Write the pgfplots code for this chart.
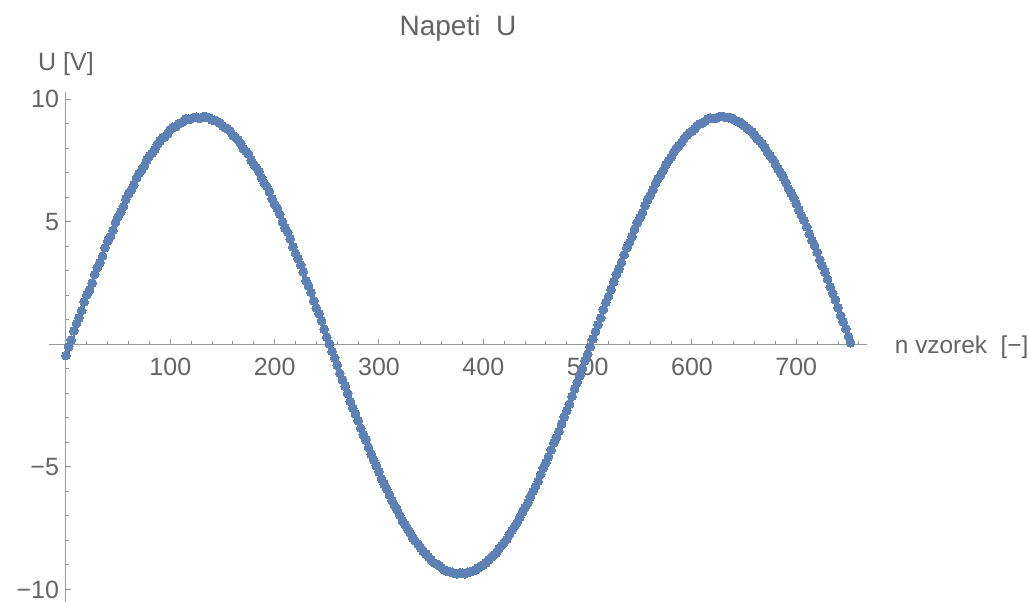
\documentclass[border=0pt]{standalone}
\usepackage{pgfplots}
\pgfplotsset{compat=1.18}
\usepackage{fontspec}
\setmainfont{Liberation Sans}
\definecolor{txt}{RGB}{100,100,100}
\definecolor{axc}{RGB}{150,150,150}
\definecolor{pt}{RGB}{94,129,181}
\begin{document}
\begin{tikzpicture}
\begin{axis}[
  scale only axis, width=408.7bp, height=255.15bp,
  xmin=-16, xmax=767.5, ymin=-10.51, ymax=10.31,
  axis lines=middle,
  axis line style={axc, line width=0.5bp, -},
  xtick={100,200,...,700}, xticklabels={100,200,300,400,500,600,700},
  ytick={-10,-5,5,10}, yticklabels={−10,−5,5,10},
  minor xtick={20,40,...,760}, minor ytick={-10,-9,...,10},
  tick align=inside,
  major tick length=2.7bp, minor tick length=1.7bp,
  every tick/.style={axc, line width=0.5bp},
  tick label style={txt, font=\fontsize{12.5bp}{14bp}\selectfont},
  xticklabel style={yshift=-3.5bp},
  clip=false,
]
\addplot[only marks, mark=*, mark size=2.2bp, color=pt, mark options={fill=pt, draw=pt, line width=0pt}] coordinates {
(0,-0.45) (5,0.18) (10,0.85) (15,1.38) (20,2.02) (25,2.50) (30,3.14) (35,3.60) (40,4.22) (45,4.65)
(50,5.22) (55,5.62) (60,6.15) (65,6.50) (70,6.98) (75,7.28) (80,7.70) (85,7.95) (90,8.30) (95,8.48)
(100,8.77) (105,8.88) (110,9.03) (115,9.20) (120,9.21) (125,9.27) (130,9.25) (135,9.28) (140,9.16) (145,9.10)
(150,8.92) (155,8.80) (160,8.52) (165,8.35) (170,7.98) (175,7.76) (180,7.34) (185,7.05) (190,6.58) (195,6.22)
(200,5.72) (205,5.31) (210,4.75) (215,4.30) (220,3.72) (225,3.25) (230,2.60) (235,2.12) (240,1.48) (245,0.96)
(250,0.30) (255,-0.28) (260,-0.85) (265,-1.45) (270,-2.00) (275,-2.60) (280,-3.12) (285,-3.68) (290,-4.20) (295,-4.72)
(300,-5.20) (305,-5.70) (310,-6.14) (315,-6.58) (320,-6.97) (325,-7.36) (330,-7.70) (335,-8.03) (340,-8.30) (345,-8.55)
(350,-8.78) (355,-8.96) (360,-9.10) (365,-9.25) (370,-9.30) (375,-9.36) (380,-9.34) (385,-9.30) (390,-9.24) (395,-9.12)
(400,-9.00) (405,-8.80) (410,-8.60) (415,-8.34) (420,-8.08) (425,-7.75) (430,-7.42) (435,-7.05) (440,-6.66) (445,-6.22)
(450,-5.80) (455,-5.30) (460,-4.82) (465,-4.30) (470,-3.80) (475,-3.25) (480,-2.70) (485,-2.12) (490,-1.55) (495,-0.97)
(500,-0.40) (505,0.22) (510,0.80) (515,1.42) (520,1.95) (525,2.56) (530,3.08) (535,3.66) (540,4.15) (545,4.70)
(550,5.16) (555,5.66) (560,6.09) (565,6.56) (570,6.92) (575,7.33) (580,7.64) (585,8.00) (590,8.24) (595,8.53)
(600,8.70) (605,8.93) (610,9.03) (615,9.20) (620,9.22) (625,9.27) (630,9.30) (635,9.25) (640,9.18) (645,9.07)
(650,8.93) (655,8.76) (660,8.54) (665,8.30) (670,8.02) (675,7.70) (680,7.36) (685,7.00) (690,6.60) (695,6.18)
(700,5.74) (705,5.26) (710,4.80) (715,4.25) (720,3.76) (725,3.20) (730,2.66) (735,2.08) (740,1.50) (745,0.92)
(750,0.32) (752,0.07)
(2.5,-0.10) (7.5,0.55) (12.5,1.08) (17.5,1.74) (22.5,2.22) (27.5,2.86) (32.5,3.33) (37.5,3.95) (42.5,4.40) (47.5,4.98)
(52.5,5.40) (57.5,5.93) (62.5,6.30) (67.5,6.78) (72.5,7.12) (77.5,7.52) (82.5,7.80) (87.5,8.15) (92.5,8.42) (97.5,8.60)
(102.5,8.86) (107.5,8.99) (112.5,9.10) (117.5,9.18) (122.5,9.26) (127.5,9.22) (132.5,9.30) (137.5,9.24) (142.5,9.15) (147.5,9.04)
(152.5,8.84) (157.5,8.70) (162.5,8.45) (167.5,8.20) (172.5,7.88) (177.5,7.52) (182.5,7.22) (187.5,6.80) (192.5,6.45) (197.5,5.94)
(202.5,5.55) (207.5,5.00) (212.5,4.58) (217.5,3.98) (222.5,3.50) (227.5,2.95) (232.5,2.38) (237.5,1.78) (242.5,1.25) (247.5,0.62)
(252.5,0.02) (257.5,-0.55) (262.5,-1.18) (267.5,-1.70) (272.5,-2.33) (277.5,-2.84) (282.5,-3.42) (287.5,-3.90) (292.5,-4.48) (297.5,-4.95)
(302.5,-5.48) (307.5,-5.90) (312.5,-6.38) (317.5,-6.76) (322.5,-7.20) (327.5,-7.52) (332.5,-7.90) (337.5,-8.15) (342.5,-8.45) (347.5,-8.66)
(352.5,-8.90) (357.5,-9.02) (362.5,-9.20) (367.5,-9.27) (372.5,-9.35) (377.5,-9.32) (382.5,-9.36) (387.5,-9.28) (392.5,-9.20) (397.5,-9.05)
(402.5,-8.92) (407.5,-8.68) (412.5,-8.50) (417.5,-8.20) (422.5,-7.95) (427.5,-7.58) (432.5,-7.26) (437.5,-6.84) (442.5,-6.47) (447.5,-6.00)
(452.5,-5.58) (457.5,-5.04) (462.5,-4.58) (467.5,-4.02) (472.5,-3.55) (477.5,-2.96) (482.5,-2.44) (487.5,-1.82) (492.5,-1.28) (497.5,-0.66)
(502.5,-0.10) (507.5,0.53) (512.5,1.08) (517.5,1.72) (522.5,2.24) (527.5,2.85) (532.5,3.35) (537.5,3.94) (542.5,4.40) (547.5,4.96)
(552.5,5.38) (557.5,5.90) (562.5,6.30) (567.5,6.77) (572.5,7.10) (577.5,7.50) (582.5,7.84) (587.5,8.10) (592.5,8.40) (597.5,8.64)
(602.5,8.80) (607.5,9.00) (612.5,9.10) (617.5,9.24) (622.5,9.22) (627.5,9.30) (632.5,9.26) (637.5,9.24) (642.5,9.12) (647.5,9.02)
(652.5,8.83) (657.5,8.68) (662.5,8.40) (667.5,8.18) (672.5,7.84) (677.5,7.55) (682.5,7.16) (687.5,6.82) (692.5,6.36) (697.5,5.98)
(702.5,5.48) (707.5,5.06) (712.5,4.50) (717.5,4.04) (722.5,3.46) (727.5,2.95) (732.5,2.34) (737.5,1.82) (742.5,1.18) (747.5,0.64)
};
\node[txt, anchor=base, yshift=10.85bp, font=\fontsize{12.5bp}{14bp}\selectfont] at (axis cs:0,10.31) {U [V]};
\node[txt, anchor=base, yshift=28.35bp, font=\fontsize{14bp}{16bp}\selectfont] at (rel axis cs:0.5,1) {Napeti\ \ U};
\node[txt, anchor=base west, xshift=10.6bp, yshift=-4.5bp, font=\fontsize{12.2bp}{14bp}\selectfont] at (axis cs:767.5,0) {n vzorek\ \ [−]};
\coordinate (ll) at (rel axis cs:0,0);
\coordinate (ur) at (rel axis cs:1,1);
\end{axis}
\pgfresetboundingbox
\path ([xshift=-24.65bp]ll) rectangle ([xshift=81.15bp,yshift=45.85bp]ur);
\end{tikzpicture}
\end{document}
